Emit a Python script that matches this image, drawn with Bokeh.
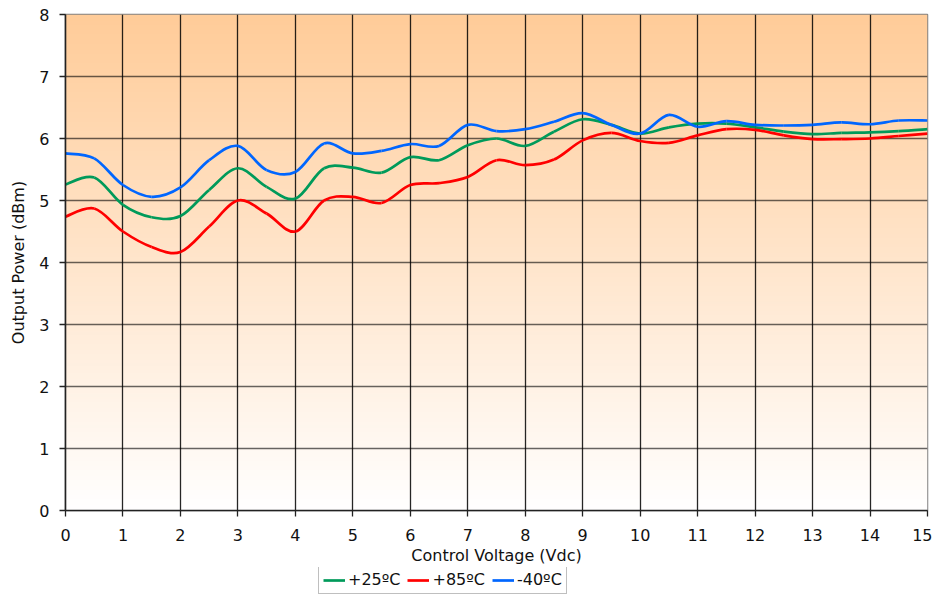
import numpy as np
from bokeh.plotting import figure
from bokeh.layouts import column
from bokeh.models import Legend, LegendItem, FixedTicker, Range1d, ColumnDataSource
from bokeh.embed import file_html
from bokeh.resources import INLINE

# ---------------- data ----------------
volts = [0, 0.5, 1, 1.5, 2, 2.5, 3, 3.5, 4, 4.5, 5, 5.5, 6, 6.5, 7, 7.5,
         8, 8.5, 9, 9.5, 10, 10.5, 11, 11.5, 12, 12.5, 13, 13.5, 14, 14.5, 15]
p_25c = [5.26, 5.37, 4.93, 4.73, 4.75, 5.17, 5.52, 5.22, 5.03, 5.52, 5.53,
         5.45, 5.70, 5.65, 5.89, 6.00, 5.88, 6.11, 6.31, 6.22, 6.08, 6.18,
         6.24, 6.24, 6.18, 6.11, 6.07, 6.09, 6.10, 6.12, 6.15]
p_85c = [4.74, 4.87, 4.50, 4.25, 4.17, 4.58, 5.00, 4.79, 4.50, 5.00, 5.06,
         4.96, 5.25, 5.28, 5.38, 5.65, 5.57, 5.66, 5.97, 6.09, 5.96, 5.93,
         6.05, 6.15, 6.14, 6.05, 5.99, 5.99, 6.00, 6.04, 6.08]
p_m40c = [5.76, 5.68, 5.25, 5.06, 5.21, 5.65, 5.88, 5.49, 5.46, 5.92, 5.76,
          5.80, 5.91, 5.88, 6.22, 6.12, 6.15, 6.27, 6.41, 6.22, 6.08, 6.38,
          6.19, 6.28, 6.22, 6.21, 6.22, 6.26, 6.23, 6.29, 6.29]
series_labels = ["+25ºC", "+85ºC", "-40ºC"]
x_ticks = [0, 1, 2, 3, 4, 5, 6, 7, 8, 9, 10, 11, 12, 13, 14, 15]
y_ticks = [0, 1, 2, 3, 4, 5, 6, 7, 8]

colors = ["#009A5A", "#FF0000", "#0066FF"]
FONT = "DejaVu Sans"
LW = 2.7

p = figure(width=932, height=567, x_range=Range1d(0, 15), y_range=Range1d(0, 8),
           output_backend="svg", toolbar_location=None,
           min_border_left=65, min_border_right=5, min_border_top=14,
           min_border_bottom=56)
p.background_fill_color = "white"
p.border_fill_color = "white"
p.outline_line_color = "#808080"
p.outline_line_width = 1.5

# vertical gradient background (style only)
n = 256
t = np.linspace(0, 1, n)
top = np.array([255, 204, 153])
bot = np.array([255, 255, 255])
rgb = (bot[None, :] * (1 - t[:, None]) + top[None, :] * t[:, None]).astype(np.uint32)
img = np.empty((n, 1), dtype=np.uint32)
view = img.view(dtype=np.uint8).reshape((n, 1, 4))
view[:, 0, 0] = rgb[:, 0]
view[:, 0, 1] = rgb[:, 1]
view[:, 0, 2] = rgb[:, 2]
view[:, 0, 3] = 255
p.image_rgba(image=[img], x=x_ticks[0], y=y_ticks[0],
             dw=x_ticks[-1] - x_ticks[0], dh=y_ticks[-1] - y_ticks[0], level="image")

# grid
p.xgrid.ticker = FixedTicker(ticks=x_ticks)
p.ygrid.ticker = FixedTicker(ticks=y_ticks)
p.xgrid.grid_line_color = "#000000"
p.xgrid.grid_line_alpha = 0.85
p.xgrid.grid_line_width = 1.3
p.ygrid.grid_line_color = "#000000"
p.ygrid.grid_line_alpha = 0.6
p.ygrid.grid_line_width = 1.6
p.xgrid.level = "underlay"
p.ygrid.level = "underlay"


def smooth_segments(xs, ys):
    x = np.asarray(xs, float)
    y = np.asarray(ys, float)
    xp = np.concatenate([[x[0]], x, [x[-1]]])
    yp = np.concatenate([[y[0]], y, [y[-1]]])
    k = 1.0 / 6.0
    x0, y0 = x[:-1], y[:-1]
    x1, y1 = x[1:], y[1:]
    cx0 = x0 + (xp[2:-1] - xp[:-3]) * k
    cy0 = y0 + (yp[2:-1] - yp[:-3]) * k
    cx1 = x1 - (xp[3:] - xp[1:-2]) * k
    cy1 = y1 - (yp[3:] - yp[1:-2]) * k
    return ColumnDataSource(dict(x0=x0, y0=y0, x1=x1, y1=y1,
                                 cx0=cx0, cy0=cy0, cx1=cx1, cy1=cy1))


for ys, c in zip([p_25c, p_85c, p_m40c], colors):
    src = smooth_segments(volts, ys)
    p.bezier(x0="x0", y0="y0", x1="x1", y1="y1", cx0="cx0", cy0="cy0",
             cx1="cx1", cy1="cy1", source=src, line_color=c, line_width=LW)

# axes
p.xaxis.ticker = FixedTicker(ticks=x_ticks)
p.yaxis.ticker = FixedTicker(ticks=y_ticks)
for ax in (p.xaxis[0], p.yaxis[0]):
    ax.major_tick_in = 0
    ax.major_tick_out = 6
    ax.minor_tick_line_color = None
    ax.axis_line_color = "#222222"
    ax.axis_line_width = 1.6
    ax.major_tick_line_color = "#222222"
    ax.major_tick_line_width = 1.3
    ax.major_label_text_font = FONT
    ax.major_label_text_font_size = "16px"
    ax.major_label_text_color = "#111111"
    ax.axis_label_text_font = FONT
    ax.axis_label_text_font_size = "16px"
    ax.axis_label_text_font_style = "normal"
    ax.axis_label_text_color = "#111111"
p.xaxis.axis_label = "Control Voltage (Vdc)"
p.yaxis.axis_label = "Output Power (dBm)"
p.xaxis.major_label_standoff = 12
p.yaxis.major_label_standoff = 10
p.xaxis.axis_label_standoff = 2
p.yaxis.axis_label_standoff = 8

# legend strip below the chart (series lines fall outside its visible range)
pl = figure(width=932, height=27, x_range=Range1d(0, 1), y_range=Range1d(0, 1),
            output_backend="svg", toolbar_location=None,
            min_border_left=0, min_border_right=0, min_border_top=0,
            min_border_bottom=0)
pl.axis.visible = False
pl.grid.visible = False
pl.outline_line_color = None
pl.background_fill_color = "white"
pl.border_fill_color = "white"
leg_r = [pl.line(x=volts, y=ys, line_color=c, line_width=LW)
         for ys, c in zip([p_25c, p_85c, p_m40c], colors)]

legend = Legend(items=[LegendItem(label=lab, renderers=[r])
                       for lab, r in zip(series_labels, leg_r)],
                orientation="horizontal", location=(253, 0))
legend.label_text_font = FONT
legend.label_text_font_size = "16px"
legend.label_text_color = "#111111"
legend.border_line_color = "#808080"
legend.border_line_width = 1.5
legend.background_fill_color = "white"
legend.glyph_width = 22
legend.glyph_height = 16
legend.label_standoff = 3
legend.spacing = 7
legend.padding = 4
legend.margin = 0
legend.label_height = 16
pl.add_layout(legend, "center")

open("out.html", "w").write(file_html(column(p, pl, spacing=0), INLINE))
